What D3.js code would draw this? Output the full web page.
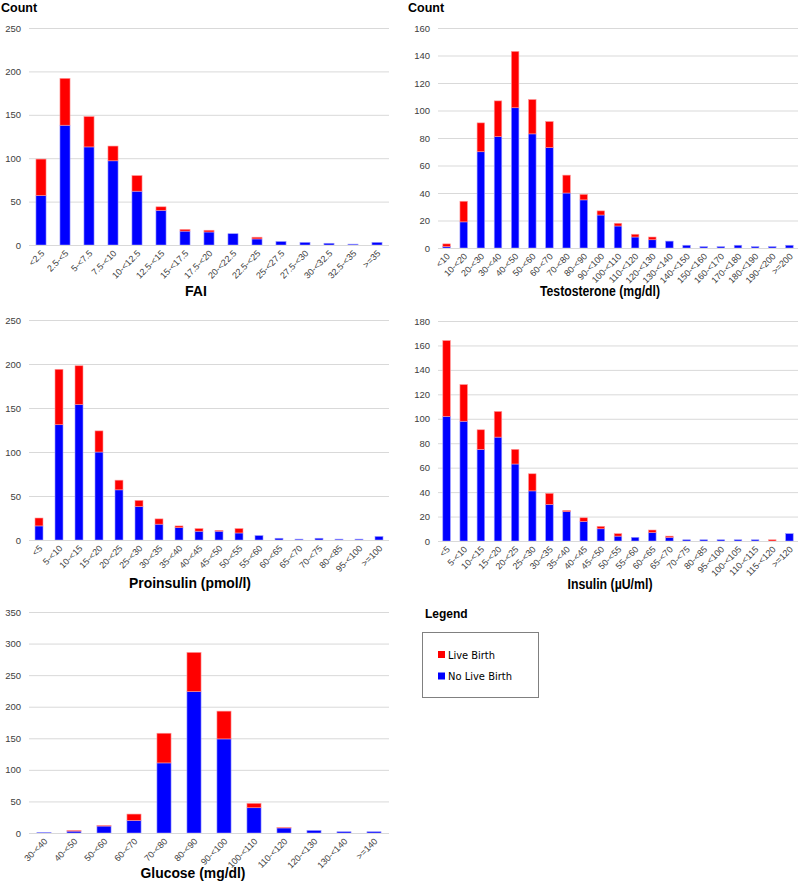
<!DOCTYPE html>
<html>
<head>
<meta charset="utf-8">
<script src="https://cdn.jsdelivr.net/npm/d3@7"></script>
<style>
  body { margin: 0; background: #fff; }
  svg { display: block; font-family: "Liberation Sans", Arial, sans-serif; }
</style>
</head>
<body>
<svg id="chart" width="800" height="885"></svg>
<script>
// ---------- DATA ----------
const faiCats = ["<2.5","2.5-<5","5-<7.5","7.5-<10","10-<12.5","12.5-<15","15-<17.5","17.5-<20","20-<22.5","22.5-<25","25-<27.5","27.5-<30","30-<32.5","32.5-<35",">=35"];
const faiNoLive = [57,138,113,97,62,40,16,15,13,7,4,3,2,1,3];
const faiLive   = [42,54,35,17,18,4,2,2,0,2,0,0,0,0,0];
const faiTicks = [0,50,100,150,200,250];

const testoCats = ["<10","10-<20","20-<30","30-<40","40-<50","50-<60","60-<70","70-<80","80-<90","90-<100","100-<110","110-<120","120-<130","130-<140","140-<150","150-<160","160-<170","170-<180","180-<190","190-<200",">=200"];
const testoNoLive = [1,19,70,81,102,83,73,40,35,24,16,8,6,5,2,1,1,2,1,1,2];
const testoLive   = [2,15,21,26,41,25,19,13,4,3,2,2,2,0,0,0,0,0,0,0,0];
const testoTicks = [0,20,40,60,80,100,120,140,160];

const proCats = ["<5","5-<10","10-<15","15-<20","20-<25","25-<30","30-<35","35-<40","40-<45","45-<50","50-<55","55-<60","60-<65","65-<70","70-<75","80-<85","95-<100",">=100"];
const proNoLive = [16,131,154,100,57,38,18,14,10,10,8,5,2,1,2,1,1,4];
const proLive   = [9,63,44,24,11,7,6,2,3,1,5,0,0,0,0,0,0,0];
const proTicks = [0,50,100,150,200,250];

const insCats = ["<5","5-<10","10-<15","15-<20","20-<25","25-<30","30-<35","35-<40","40-<45","45-<50","50-<55","55-<60","60-<65","65-<70","70-<75","80-<85","95-<100","100-<105","110-<115","115-<120",">=120"];
const insNoLive = [102,98,75,85,63,41,30,24,16,10,4,3,7,3,1,1,1,1,1,0,6];
const insLive   = [62,30,16,21,12,14,9,1,3,2,2,0,2,1,0,0,0,0,0,1,0];
const insTicks = [0,20,40,60,80,100,120,140,160,180];

const gluCats = ["30-<40","40-<50","50-<60","60-<70","70-<80","80-<90","90-<100","100-<110","110-<120","120-<130","130-<140",">=140"];
const gluNoLive = [1,3,11,20,111,224,149,40,8,4,2,2];
const gluLive   = [0,1,1,10,47,62,44,7,1,0,0,0];
const gluTicks = [0,50,100,150,200,250,300,350];

const seriesNames = ["Live Birth","No Live Birth"];
const seriesColors = {"Live Birth":"#ff0000","No Live Birth":"#0000ff"};

// ---------- LAYOUT ----------
const panels = [
  {cats: faiCats, blue: faiNoLive, red: faiLive, ticks: faiTicks, x0: 29, x1: 389, yTop: 28, yBot: 245, pad: 0.58,
   title: "FAI", tx: 196, ty: 296, tw: 22, count: true, cx: 1},
  {cats: testoCats, blue: testoNoLive, red: testoLive, ticks: testoTicks, x0: 438, x1: 798, yTop: 28, yBot: 248, pad: 0.56,
   title: "Testosterone (mg/dl)", tx: 600, ty: 296, tw: 120, count: true, cx: 408},
  {cats: proCats, blue: proNoLive, red: proLive, ticks: proTicks, x0: 29, x1: 389, yTop: 320, yBot: 540, pad: 0.6,
   title: "Proinsulin (pmol/l)", tx: 190, ty: 588, tw: 122},
  {cats: insCats, blue: insNoLive, red: insLive, ticks: insTicks, x0: 438, x1: 798, yTop: 321, yBot: 541, pad: 0.56,
   title: "Insulin (µU/ml)", tx: 610, ty: 589, tw: 85},
  {cats: gluCats, blue: gluNoLive, red: gluLive, ticks: gluTicks, x0: 29, x1: 389, yTop: 612, yBot: 833, pad: 0.53,
   title: "Glucose (mg/dl)", tx: 193, ty: 878, tw: 105}
];

const svg = d3.select("#chart");

panels.forEach(p => {
  const g = svg.append("g");
  const x = d3.scaleBand().domain(p.cats).range([p.x0, p.x1]).paddingInner(p.pad).paddingOuter(p.pad / 2);
  const yMax = p.ticks[p.ticks.length - 1];
  const y = d3.scaleLinear().domain([0, yMax]).range([p.yBot, p.yTop]);

  // gridlines
  const yAxis = d3.axisLeft(y).tickValues(p.ticks).tickSize(-(p.x1 - p.x0)).tickPadding(8);
  const ya = g.append("g").attr("transform", `translate(${p.x0},0)`).call(yAxis);
  ya.select(".domain").remove();
  ya.selectAll(".tick line").attr("stroke", "#d9d9d9").attr("stroke-width", 1);
  ya.selectAll(".tick text").attr("fill", "#404040").attr("font-size", 9.5)
    .attr("font-family", "'Liberation Sans', Arial, sans-serif");

  // stacked bars
  const rows = p.cats.map((c, i) => ({cat: c, "No Live Birth": p.blue[i], "Live Birth": p.red[i]}));
  const stack = d3.stack().keys(["No Live Birth", "Live Birth"])(rows);
  stack.forEach(layer => {
    g.append("g").selectAll("rect").data(layer).join("rect")
      .attr("x", d => x(d.data.cat))
      .attr("width", x.bandwidth())
      .attr("y", d => y(d[1]))
      .attr("height", d => Math.max(0, y(d[0]) - y(d[1])))
      .attr("fill", seriesColors[layer.key])
      .attr("stroke", d => (d[1] - d[0]) > 0 ? (layer.key === "Live Birth" ? "#ff9999" : "#9999ff") : "none")
      .attr("stroke-width", 0.6);
  });

  // x axis baseline
  g.append("line").attr("x1", p.x0).attr("x2", p.x1).attr("y1", p.yBot + 0.5).attr("y2", p.yBot + 0.5)
    .attr("stroke", "#d9d9d9");

  // x tick labels rotated
  const xa = g.append("g").attr("transform", `translate(0,${p.yBot})`)
    .call(d3.axisBottom(x).tickSize(0).tickPadding(0));
  xa.select(".domain").remove();
  xa.selectAll(".tick text")
    .attr("text-anchor", "end")
    .attr("dy", null)
    .attr("fill", "#404040")
    .attr("font-size", 9)
    .attr("font-family", "'Liberation Sans', Arial, sans-serif")
    .attr("transform", "translate(4,9) rotate(-45)");

  // axis title
  g.append("text").attr("x", p.tx).attr("y", p.ty).attr("text-anchor", "middle")
    .attr("font-weight", "bold").attr("font-size", 14).attr("fill", "#000")
    .attr("textLength", p.tw).attr("lengthAdjust", "spacingAndGlyphs")
    .text(p.title);

  if (p.count) {
    g.append("text").attr("x", p.cx).attr("y", 12).attr("font-weight", "bold")
      .attr("font-size", 12.5).attr("fill", "#000").text("Count");
  }
});

// ---------- LEGEND ----------
const lg = svg.append("g");
lg.append("text").attr("x", 425).attr("y", 618).attr("font-weight", "bold").attr("font-size", 12).text("Legend");
lg.append("rect").attr("x", 422.5).attr("y", 632.5).attr("width", 116).attr("height", 65)
  .attr("fill", "#fff").attr("stroke", "#808080").attr("stroke-width", 1);
seriesNames.forEach((name, i) => {
  const yy = 651 + i * 21.5;
  lg.append("rect").attr("x", 438).attr("y", yy).attr("width", 7).attr("height", 7).attr("fill", seriesColors[name]);
  lg.append("text").attr("x", 448).attr("y", yy + 7.5).attr("font-size", 11)
    .attr("font-family", "'DejaVu Sans', sans-serif").attr("fill", "#000")
    .attr("textLength", name === "Live Birth" ? 47 : 64).attr("lengthAdjust", "spacingAndGlyphs")
    .text(name);
});
</script>
</body>
</html>
